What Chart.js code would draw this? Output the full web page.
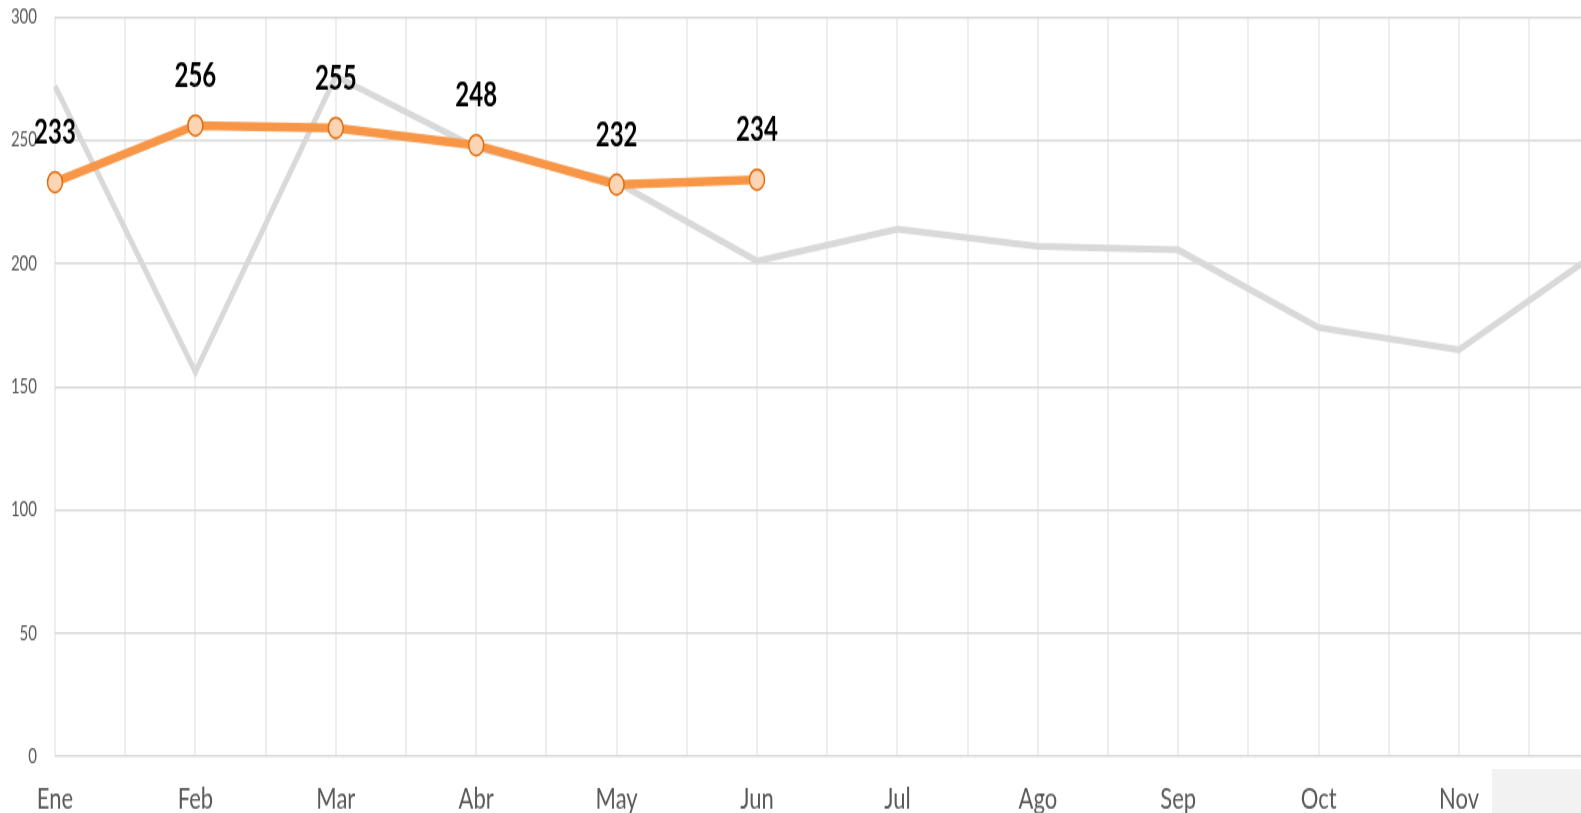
<!DOCTYPE html>
<html>
<head>
<meta charset="utf-8">
<script src="https://cdn.jsdelivr.net/npm/chart.js@4/dist/chart.umd.min.js"></script>
<style>
  html, body { margin: 0; padding: 0; background: #ffffff; overflow: hidden; width: 1581px; height: 813px; }
  #clip { position: absolute; left: 0; top: 0; width: 1581px; height: 813px; overflow: hidden; }
  #stretch { position: absolute; left: 0; top: 0; width: 1625px; transform-origin: 0 0; transform: scaleY(1.38); }
  #box { position: absolute; left: 1492px; top: 769px; width: 89px; height: 44px; background: #f2f2f2; }
</style>
</head>
<body>
<div id="clip">
  <div id="stretch"><canvas id="c" width="1625" height="592"></canvas></div>
  <div id="box"></div>
</div>
<script>
const months = ["Ene", "Feb", "Mar", "Abr", "May", "Jun", "Jul", "Ago", "Sep", "Oct", "Nov", "Dic"];
const currentYear = [233, 256, 255, 248, 232, 234, null, null, null, null, null, null];
const previousYear = [272, 156, 276, 247, 233, 201, 214, 207, 205.5, 174, 165, 205];
const yTicks = [0, 50, 100, 150, 200, 250, 300];

const FONT = "Lato, 'Open Sans', sans-serif";

const labelPlugin = {
  id: 'valueLabels',
  afterDatasetsDraw(chart) {
    const ctx = chart.ctx;
    const meta = chart.getDatasetMeta(0);
    ctx.save();
    ctx.font = "bold 24px " + FONT;
    ctx.fillStyle = "#000000";
    ctx.textAlign = "center";
    ctx.textBaseline = "middle";
    meta.data.forEach((el, i) => {
      const v = currentYear[i];
      if (v === null || v === undefined) return;
      ctx.fillText(String(v), el.x, el.y - 35.5);
    });
    ctx.restore();
  }
};

function noPad(s) { s.paddingTop = 0; s.paddingBottom = 0; s.paddingLeft = 0; s.paddingRight = 0; }

new Chart(document.getElementById('c'), {
  type: 'line',
  data: {
    labels: months,
    datasets: [
      {
        label: 'Actual',
        data: currentYear,
        borderColor: '#f79646',
        borderWidth: 6.5,
        pointRadius: 7.5,
        pointHoverRadius: 7.5,
        pointBackgroundColor: '#fcd5b5',
        pointBorderColor: '#e36c09',
        pointBorderWidth: 1.5,
        tension: 0,
        spanGaps: false,
        order: 0
      },
      {
        label: 'Anterior',
        data: previousYear,
        borderColor: '#d9d9d9',
        borderWidth: 5,
        pointRadius: 0,
        tension: 0,
        order: 1
      }
    ]
  },
  options: {
    responsive: false,
    animation: false,
    devicePixelRatio: 1,
    layout: { autoPadding: false, padding: { top: 12.3, right: 25.6, left: 0, bottom: 0 } },
    plugins: {
      legend: { display: false },
      tooltip: { enabled: false }
    },
    scales: {
      x: {
        type: 'category',
        offset: false,
        grid: { display: false, drawTicks: false },
        border: { display: false },
        ticks: {
          color: '#595959',
          font: { family: FONT, size: 22, lineHeight: 1.2 },
          padding: 17.4,
          maxRotation: 0,
          autoSkip: false
        },
        afterFit(s) { noPad(s); s.height = 43.8; }
      },
      xg: {
        type: 'linear',
        position: 'bottom',
        min: 0,
        max: months.length - 1,
        grid: { color: '#eeeeee', lineWidth: 2, drawTicks: false },
        border: { display: false },
        ticks: { display: false, stepSize: 0.5 },
        afterFit(s) { noPad(s); s.height = 0; }
      },
      y: {
        min: yTicks[0],
        max: yTicks[yTicks.length - 1],
        afterBuildTicks(s) { s.ticks = yTicks.map(v => ({ value: v })); },
        grid: { color: '#d9d9d9', lineWidth: 1.5, drawTicks: false },
        border: { display: false },
        ticks: {
          color: '#595959',
          font: { family: FONT, size: 15 },
          padding: 18
        },
        afterFit(s) { noPad(s); s.width = 55; }
      }
    }
  },
  plugins: [labelPlugin]
});
</script>
</body>
</html>
